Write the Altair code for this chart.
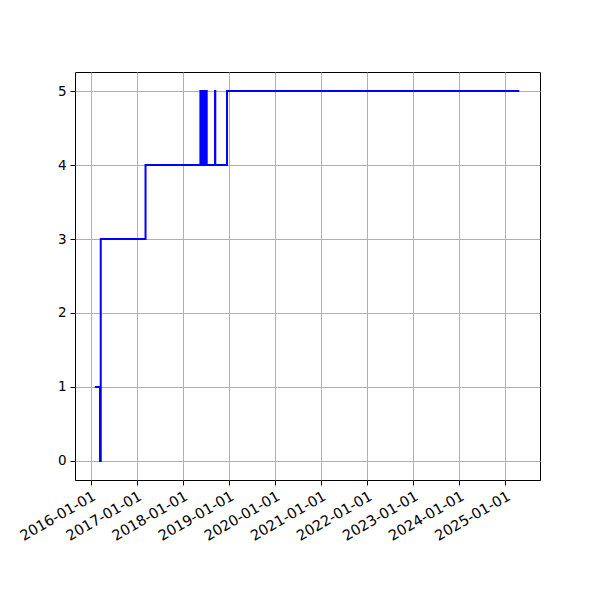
import altair as alt
import pandas as pd

dates = [
    "2016-02-03", "2016-03-15", "2016-03-21", "2017-03-11",
    "2018-05-20", "2018-05-24", "2018-05-27", "2018-05-31", "2018-06-03",
    "2018-06-07", "2018-06-10", "2018-06-14", "2018-06-17", "2018-06-21",
    "2018-06-24", "2018-06-28", "2018-07-01", "2018-07-05", "2018-07-09",
    "2018-09-13", "2018-09-15", "2018-12-17", "2025-04-21",
]
values = [
    1, 0, 3, 4,
    5, 4, 5, 4, 5,
    4, 5, 4, 5, 4,
    5, 4, 5, 5, 4,
    5, 4, 5, 5,
]
tick_dates = [f"{y}-01-01" for y in range(2016, 2026)]

df = pd.DataFrame({"date": pd.to_datetime(dates), "value": values})

x_dom = [pd.Timestamp("2015-08-30").isoformat(), pd.Timestamp("2025-10-02").isoformat()]
tick_vals = [pd.Timestamp(d).isoformat() for d in tick_dates]

chart = alt.Chart(df).mark_line(
    interpolate="step-after", color="#0000ff", strokeWidth=2, clip=True
).encode(
    x=alt.X(
        "date:T",
        scale=alt.Scale(domain=x_dom, nice=False),
        axis=alt.Axis(
            values=tick_vals,
            format="%Y-%m-%d",
            labelAngle=-30,
            labelAlign="right",
            labelBaseline="top",
            labelFontSize=14.5,
            title=None,
            grid=True,
            labelOverlap=False,
        ),
    ),
    y=alt.Y(
        "value:Q",
        scale=alt.Scale(domain=[-0.257, 5.257], nice=False, zero=False),
        axis=alt.Axis(values=[0, 1, 2, 3, 4, 5], format="d", title=None, grid=True),
    ),
).properties(
    width=465,
    height=408,
    padding={"left": 67, "top": 64, "right": 52, "bottom": 112},
    autosize="none",
).configure_view(
    stroke="black", strokeWidth=1
).configure_axis(
    labelFont="DejaVu Sans",
    labelFontSize=13.5,
    labelColor="black",
    tickColor="black",
    tickSize=5,
    tickWidth=1,
    labelPadding=4,
    domain=False,
    gridColor="#b0b0b0",
    gridWidth=1,
)

chart.save("out.html", embed_options={"renderer": "svg", "actions": False})
